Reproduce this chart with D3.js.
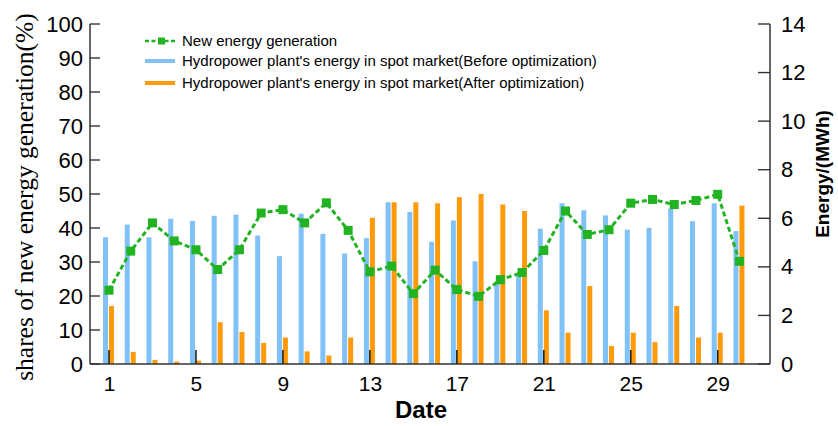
<!DOCTYPE html>
<html><head><meta charset="utf-8">
<script src="https://cdn.jsdelivr.net/npm/d3@7"></script>
<style>body{margin:0;background:#fff}svg{display:block}</style>
</head><body>
<svg id="c" width="838" height="426"></svg>
<script>
const days = d3.range(1, 31);
const xTickValues = [1,5,9,13,17,21,25,29];
const leftTicks = [0,10,20,30,40,50,60,70,80,90,100];
const rightTicks = [0,2,4,6,8,10,12,14];
// shares of new energy generation (%)
const newEnergyShare = [21.7,33.2,41.5,36.2,33.6,27.8,33.6,44.4,45.4,41.5,47.4,39.3,27.1,28.8,20.7,27.6,21.9,19.9,24.8,26.9,33.4,45.0,38.1,39.5,47.3,48.4,46.9,48.1,49.9,30.2];
// Hydropower energy in spot market, before optimization (MWh)
const beforeOpt = [5.22,5.74,5.22,5.98,5.89,6.10,6.15,5.29,4.44,6.19,5.36,4.55,5.18,6.66,6.26,5.03,5.91,4.23,3.36,3.64,5.57,6.62,6.33,6.12,5.53,5.61,6.40,5.88,6.62,5.47];
// after optimization (MWh)
const afterOpt = [2.39,0.50,0.17,0.10,0.14,1.72,1.32,0.87,1.09,0.52,0.35,1.09,6.02,6.66,6.66,6.62,6.87,7.00,6.57,6.30,2.21,1.29,3.21,0.74,1.29,0.90,2.39,1.09,1.29,6.52];
const legendLabels = ["New energy generation","Hydropower plant's energy in spot market(Before optimization)","Hydropower plant's energy in spot market(After optimization)"];

const colBlue = "#80c1f7", colOrange = "#ff9a0a", colGreen = "#22b322", axisCol = "#333";
const svg = d3.select("#c");
const L = 90, R = 770, T = 24, B = 364;
const x = d3.scaleLinear().domain([1 - 19/21.74, 1 + 661/21.74]).range([L, R]);
const yL = d3.scaleLinear().domain([0,100]).range([B, T]);
const yR = d3.scaleLinear().domain([0,14]).range([B, T]);
const sans = "'Liberation Sans', Arial, sans-serif";

// bars
svg.append("g").selectAll("rect").data(days).join("rect")
  .attr("x", d => x(d) - 6).attr("width", 5)
  .attr("y", (d,i) => yR(beforeOpt[i])).attr("height", (d,i) => B - yR(beforeOpt[i]))
  .attr("fill", colBlue);
svg.append("g").selectAll("rect").data(days).join("rect")
  .attr("x", d => x(d)).attr("width", 5)
  .attr("y", (d,i) => yR(afterOpt[i])).attr("height", (d,i) => B - yR(afterOpt[i]))
  .attr("fill", colOrange);

// x axis
const xAxis = svg.append("g").attr("transform", `translate(0,${B})`)
  .call(d3.axisBottom(x).tickValues(xTickValues).tickSize(0).tickPadding(12).tickFormat(d3.format("d")));
xAxis.select(".domain").remove();
xAxis.selectAll("text").attr("font-family", sans).attr("font-size", 21).attr("fill", "#000");
svg.append("g").selectAll("line").data(xTickValues).join("line")
  .attr("x1", d => x(d)).attr("x2", d => x(d)).attr("y1", B - 14).attr("y2", B)
  .attr("stroke", "#222").attr("stroke-width", 1.6);
svg.append("line").attr("x1", L).attr("x2", R).attr("y1", B).attr("y2", B).attr("stroke", axisCol).attr("stroke-width", 1.5);

// left axis
const la = svg.append("g").attr("transform", `translate(${L},0)`)
  .call(d3.axisLeft(yL).tickValues(leftTicks).tickSize(0).tickPadding(7));
la.select(".domain").remove();
la.selectAll("text").attr("font-family", sans).attr("font-size", 22).attr("fill", "#000");
svg.append("g").selectAll("line").data(leftTicks).join("line")
  .attr("x1", L).attr("x2", L + 10).attr("y1", d => yL(d)).attr("y2", d => yL(d))
  .attr("stroke", axisCol).attr("stroke-width", 1.4);
svg.append("line").attr("x1", L).attr("x2", L).attr("y1", T).attr("y2", B).attr("stroke", axisCol).attr("stroke-width", 1.5);

// right axis
const ra = svg.append("g").attr("transform", `translate(${R},0)`)
  .call(d3.axisRight(yR).tickValues(rightTicks).tickSize(0).tickPadding(11));
ra.select(".domain").remove();
ra.selectAll("text").attr("font-family", sans).attr("font-size", 22).attr("fill", "#000");
svg.append("g").selectAll("line").data(rightTicks).join("line")
  .attr("x1", R - 12).attr("x2", R).attr("y1", d => yR(d)).attr("y2", d => yR(d))
  .attr("stroke", axisCol).attr("stroke-width", 1.4);
svg.append("line").attr("x1", R).attr("x2", R).attr("y1", T).attr("y2", B).attr("stroke", axisCol).attr("stroke-width", 1.5);

// line
const line = d3.line().x(d => x(d)).y((d,i) => yL(newEnergyShare[i]));
svg.append("path").datum(days).attr("d", line).attr("fill", "none")
  .attr("stroke", colGreen).attr("stroke-width", 3).attr("stroke-dasharray", "5,3");
svg.append("g").selectAll("rect").data(days).join("rect")
  .attr("x", d => x(d) - 4.5).attr("y", (d,i) => yL(newEnergyShare[i]) - 4.5)
  .attr("width", 9).attr("height", 9).attr("fill", colGreen);

// axis titles
svg.append("text").attr("transform", "translate(33,197) rotate(-90)").attr("text-anchor", "middle")
  .attr("font-family", "'Liberation Serif', 'Times New Roman', serif").attr("font-size", 25.5).attr("fill", "#000")
  .text("shares of new energy generation(%)");
svg.append("text").attr("transform", "translate(829,174) rotate(-90)").attr("text-anchor", "middle")
  .attr("font-family", sans).attr("font-size", 19).attr("font-weight", "bold").attr("fill", "#000")
  .text("Energy/(MWh)");
svg.append("text").attr("x", 421).attr("y", 418).attr("text-anchor", "middle")
  .attr("font-family", sans).attr("font-size", 24).attr("font-weight", "bold").attr("fill", "#000")
  .text("Date");

// legend
const lg = svg.append("g");
const ly = [41, 61, 83];
lg.append("line").attr("x1", 145).attr("x2", 177).attr("y1", ly[0]).attr("y2", ly[0])
  .attr("stroke", colGreen).attr("stroke-width", 2.5).attr("stroke-dasharray", "4,2.5");
lg.append("rect").attr("x", 158).attr("y", ly[0] - 3.5).attr("width", 7).attr("height", 7).attr("fill", colGreen);
lg.append("line").attr("x1", 145).attr("x2", 175).attr("y1", ly[1]).attr("y2", ly[1]).attr("stroke", colBlue).attr("stroke-width", 4);
lg.append("line").attr("x1", 145).attr("x2", 175).attr("y1", ly[2]).attr("y2", ly[2]).attr("stroke", colOrange).attr("stroke-width", 4);
lg.selectAll("text").data(legendLabels).join("text")
  .attr("x", 182).attr("y", (d,i) => ly[i] + 5)
  .attr("font-family", sans).attr("font-size", 15).attr("fill", "#000")
  .text(d => d);
</script>
</body></html>
